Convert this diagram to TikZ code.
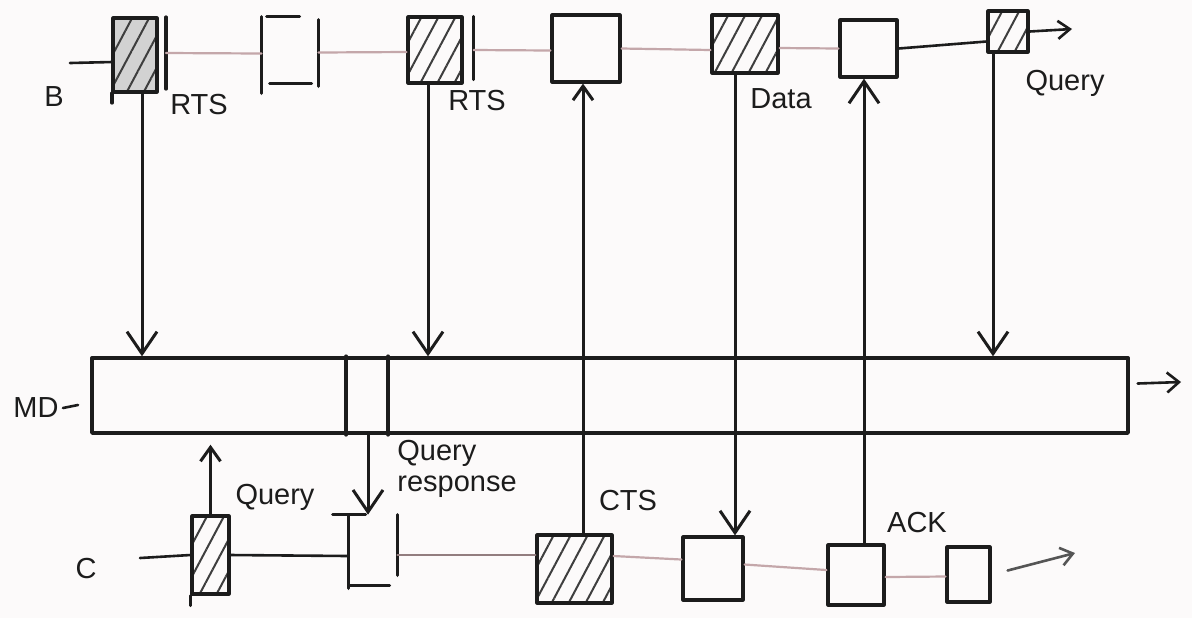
\documentclass[tikz,border=0pt]{standalone}
\usepackage{fontspec}
\setmainfont{Liberation Sans}
\usetikzlibrary{arrows.meta,patterns.meta}
\definecolor{ink}{HTML}{1C1C1C}
\definecolor{faint}{HTML}{C4A7AA}
\definecolor{paper}{HTML}{FCFAFA}
\begin{document}
\begin{tikzpicture}[x=0.5pt,y=-0.5pt, line cap=round, line join=round,
 box/.style={draw=ink, line width=1.6pt, inner sep=0pt},
 hbox/.style={box, pattern={Lines[angle=62,distance=7.5pt,line width=1pt]}, pattern color=ink!85},
 ghost/.style={inner sep=0pt, draw=none},
 bar/.style={draw=ink, line width=1.6pt},
 tlk/.style={draw=ink, line width=1.3pt},
 tlf/.style={draw=faint, line width=1.1pt},
 tip/.style={-{Straight Barb[length=6pt,width=9pt]}},
 msg/.style={draw=ink, line width=1.5pt, -{Straight Barb[length=11pt,width=15pt]}},
 msgs/.style={draw=ink, line width=1.5pt, -{Straight Barb[length=7pt,width=10pt]}},
 lbl/.style={font=\fontsize{14.5}{15.5}\selectfont, text=ink, inner sep=0pt}]
\useasboundingbox[fill=paper] (0,0) rectangle (1192,618);

% ---- B timeline boxes
\node[hbox, preaction={fill=gray!35}, minimum width=22pt, minimum height=37pt] (b1) at (135,55) {};
\node[ghost, minimum width=28pt, minimum height=35.5pt] (b2) at (290,52.5) {};
\node[hbox, minimum width=27pt, minimum height=33pt] (b3) at (435,50) {};
\node[box, minimum width=34pt, minimum height=33.5pt] (b4) at (586,48.5) {};
\node[hbox, minimum width=33pt, minimum height=29pt] (b5) at (745,44) {};
\node[box, minimum width=28.5pt, minimum height=28.5pt] (b6) at (868.5,48.5) {};
\node[hbox, minimum width=20pt, minimum height=20.5pt] (b7) at (1008,31.5) {};

\draw[bar] (b1.south west) -- ++(0,10);
\draw[bar] ([xshift=4pt]b1.north east) -- ([xshift=4pt,yshift=2pt]b1.south east);
\draw[bar] (b2.north west) -- ([yshift=-2.5pt]b2.south west);
\draw[bar] ([yshift=-1.5pt]b2.north east) -- ([yshift=1pt]b2.south east);
\draw[bar] ([xshift=2.5pt]b2.north west) -- ([xshift=19pt]b2.north west);
\draw[bar] ([xshift=4pt,yshift=2.5pt]b2.south west) -- ([xshift=25pt,yshift=2.5pt]b2.south west);
\draw[bar] ([xshift=5pt,yshift=-0.5pt]b3.north east) -- ([xshift=5pt,yshift=2.5pt]b3.south east);

% ---- B timeline line
\coordinate (bstart) at (70,63);
\coordinate (bend) at (1072,29);
\draw[tlk] (bstart) -- ([yshift=-3.5pt]b1.west);
\draw[tlf] ([xshift=4pt,yshift=1pt]b1.east) -- ([yshift=-0.5pt]b2.west);
\draw[tlf] (b2.east) -- ([yshift=-1pt]b3.west);
\draw[tlf] ([xshift=5pt]b3.east) -- ([yshift=-1pt]b4.west);
\draw[tlf] (b4.east) -- ([yshift=-3pt]b5.west);
\draw[tlf] ([yshift=-2pt]b5.east) -- (b6.west);
\draw[tlk] (b6.east) -- ([yshift=-5pt]b7.west);
\draw[tlk, tip] (b7.east) -- (bend);

% ---- MD
\node[box, line width=1.7pt, minimum width=518pt, minimum height=37.5pt] (md) at (610,395.5) {};
\draw[bar, line width=1.9pt] ([xshift=128pt]md.north west) -- ([xshift=128pt]md.south west);
\draw[bar, line width=1.9pt] ([xshift=149pt]md.north west) -- ([xshift=149pt]md.south west);
\coordinate (mdend) at (1181,382);
\draw[tlk, -{Straight Barb[length=6pt,width=10pt]}] ([xshift=4pt,yshift=6pt]md.east) -- (mdend);

% ---- C timeline boxes
\node[hbox, minimum width=18.5pt, minimum height=39pt] (c1) at (210.5,555) {};
\node[ghost, minimum width=24pt, minimum height=35pt] (c2) at (373,550) {};
\node[hbox, minimum width=37.5pt, minimum height=34pt] (c3) at (574.5,569) {};
\node[box, minimum width=30pt, minimum height=31.5pt] (c4) at (713,568.5) {};
\node[box, minimum width=28pt, minimum height=30pt] (c5) at (856,575) {};
\node[box, minimum width=21.5pt, minimum height=27.5pt] (c6) at (968.5,574.5) {};

\draw[bar] (c1.south west) -- ++(0,10);
\draw[bar] (c2.north west) -- ([yshift=-1.5pt]c2.south west);
\draw[bar] ([xshift=-8pt]c2.north west) -- ([xshift=8.5pt]c2.north west);
\draw[bar] (c2.south west) -- ([xshift=20.5pt]c2.south west);
\draw[bar] (c2.north east) -- ([yshift=5pt]c2.south east);

% ---- C timeline line
\coordinate (cstart) at (140,558);
\coordinate (cend) at (1075,553);
\draw[tlk] (cstart) -- (c1.west);
\draw[tlk] (c1.east) -- ([yshift=-3pt]c2.west);
\draw[tlf, draw=faint!70!ink] ([yshift=-2.5pt]c2.east) -- ([yshift=7pt]c3.west);
\draw[tlf] ([yshift=6.5pt]c3.east) -- ([yshift=4.5pt]c4.west);
\draw[tlf] ([yshift=2pt]c4.east) -- ([yshift=2.5pt]c5.west);
\draw[tlf] ([yshift=-1pt]c5.east) -- ([yshift=-1pt]c6.west);
\draw[tlk, draw=ink!75, tip] ([xshift=8pt,yshift=2pt]c6.east) -- (cend);

% ---- messages
\draw[msg] ([xshift=3.5pt]b1.south) -- ([xshift=3.5pt]b1.south |- md.north);
\draw[msg] ([xshift=-3.5pt]b3.south) -- ([xshift=-3.5pt]b3.south |- md.north);
\draw[msg] ([xshift=-7.5pt]b7.south) -- ([xshift=-7.5pt]b7.south |- md.north);
\draw[msgs] ([xshift=4.25pt]c3.north) -- ([xshift=4.25pt]c3.north |- b4.south);
\draw[msg] ([xshift=-5pt]b5.south) -- ([xshift=-5pt]b5.south |- c4.north);
\draw[msg] ([xshift=4pt]c5.north) -- ([xshift=4pt]c5.north |- b6.south);
\draw[msgs, shorten >=5pt] (c1.north) -- (c1.north |- md.south);
\draw[msg] ([xshift=-2.5pt]c2.north |- md.south) -- ([xshift=-2.5pt]c2.north);

% ---- labels
\node[lbl] (lB) at (54,97) {B};
\node[lbl] (lrts1) at (199,105) {RTS};
\node[lbl] (lrts2) at (477,101) {RTS};
\node[lbl] (ldata) at (781,99) {Data};
\node[lbl] (lq1) at (1065,83) {Query};
\node[lbl] (lmd) at (36,408) {MD};
\coordinate (mdd) at (78,405);
\draw[tlk] ([xshift=2pt]lmd.east) -- (mdd);
\node[lbl] (lC) at (86,568) {C};
\node[lbl] (lq2) at (275,497) {Query};
\node[lbl, align=left, anchor=north west] (lqr) at (397,440) {Query\\response};
\node[lbl] (lcts) at (628,500) {CTS};
\node[lbl] (lack) at (917,522) {ACK};
\end{tikzpicture}
\end{document}
